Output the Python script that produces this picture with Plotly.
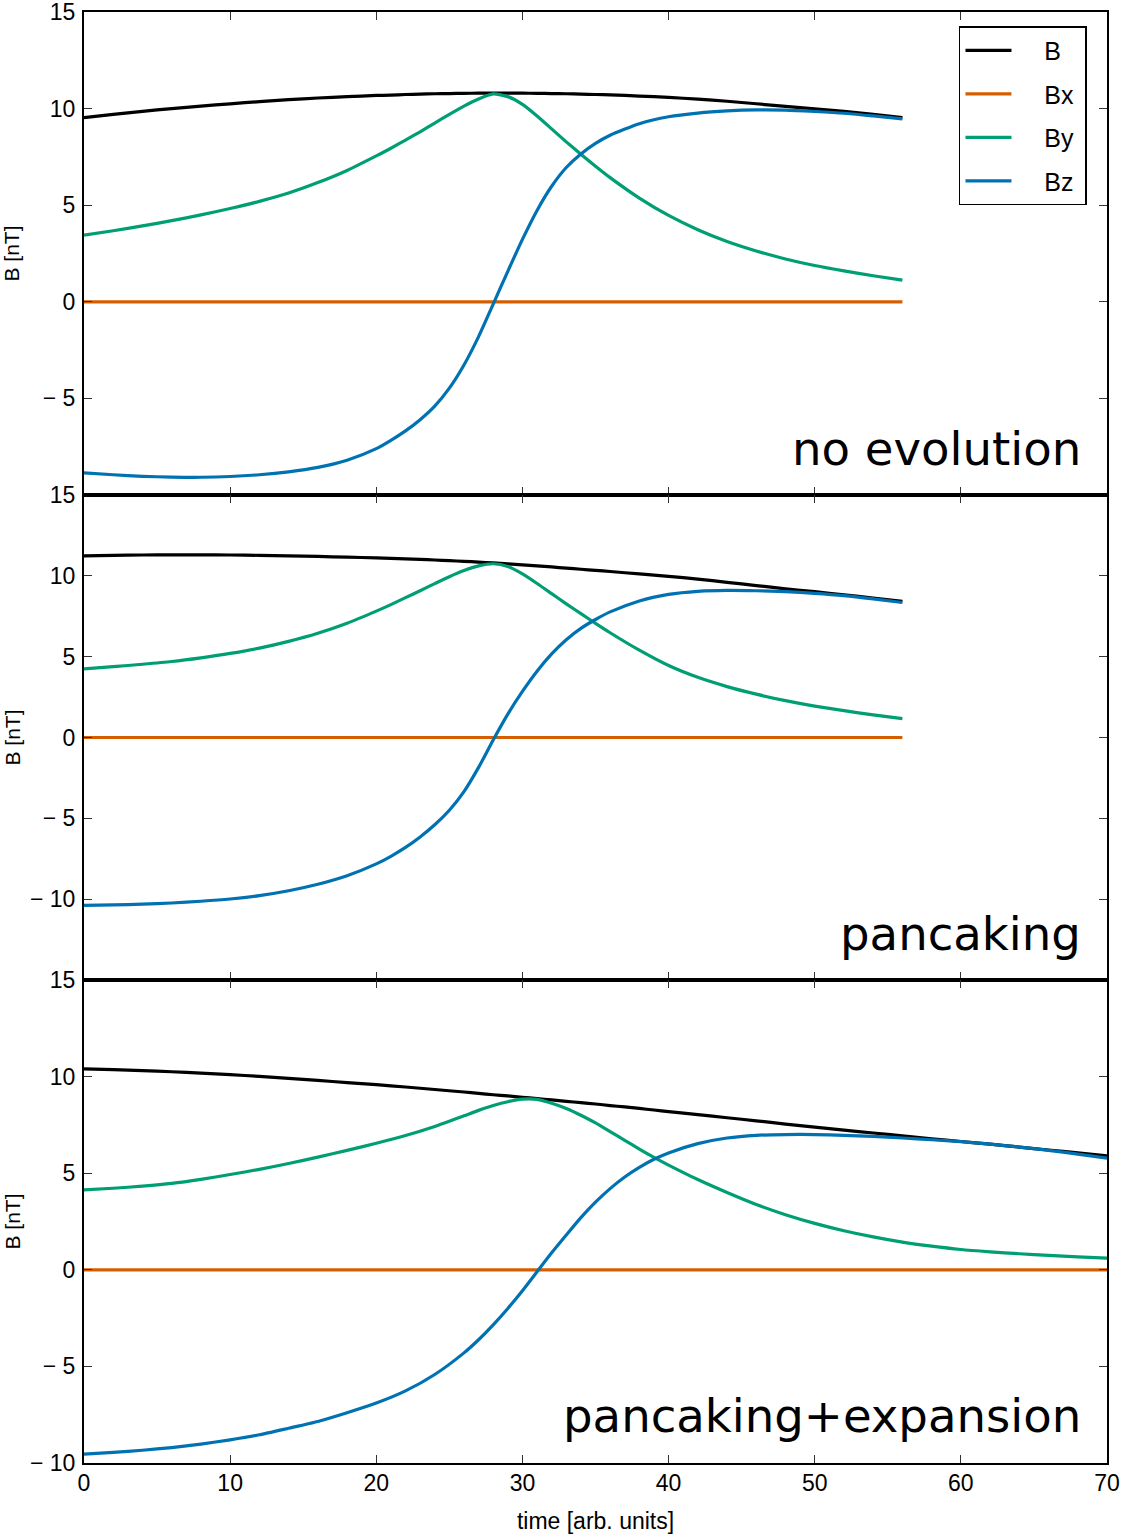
import plotly.graph_objects as go
from plotly.subplots import make_subplots

# ---------------- data ----------------
# panel 1: no evolution
t_top = [0, 2, 4, 6, 8, 10, 12, 14, 16, 18, 20, 21, 22, 23, 24, 25, 26, 27, 28, 29,
         30, 31, 32, 33, 34, 35, 36, 38, 40, 42, 44, 46, 48, 50, 52, 54, 56]
B_top = [9.53, 9.7, 9.86, 10.0, 10.13, 10.25, 10.36, 10.46, 10.55, 10.62, 10.68, 10.7,
         10.73, 10.75, 10.77, 10.78, 10.79, 10.8, 10.8, 10.8, 10.8, 10.79, 10.78, 10.77,
         10.75, 10.73, 10.71, 10.65, 10.58, 10.49, 10.38, 10.25, 10.12, 9.99, 9.86, 9.7, 9.53]
Bx_top = [0, 0, 0, 0, 0, 0, 0, 0, 0, 0, 0, 0, 0, 0, 0, 0, 0, 0, 0, 0,
          0, 0, 0, 0, 0, 0, 0, 0, 0, 0, 0, 0, 0, 0, 0, 0, 0]
By_top = [3.45, 3.68, 3.93, 4.2, 4.5, 4.83, 5.2, 5.63, 6.17, 6.8, 7.55, 7.95, 8.37,
          8.8, 9.25, 9.7, 10.13, 10.5, 10.76, 10.62, 10.22, 9.62, 8.95, 8.28, 7.64,
          7.02, 6.43, 5.37, 4.47, 3.73, 3.12, 2.63, 2.22, 1.88, 1.6, 1.35, 1.12]
Bz_top = [-8.85, -8.95, -9.03, -9.07, -9.08, -9.04, -8.95, -8.8, -8.57, -8.2, -7.6,
          -7.17, -6.68, -6.1, -5.4, -4.47, -3.27, -1.8, -0.12, 1.58, 3.23, 4.73, 5.98,
          6.95, 7.65, 8.2, 8.62, 9.22, 9.58, 9.77, 9.88, 9.93, 9.92, 9.85, 9.76, 9.62, 9.47]

# panel 2: pancaking
t_mid = [0, 2, 4, 6, 8, 10, 12, 14, 16, 18, 20, 21, 22, 23, 24, 25, 26, 27, 28, 29,
         30, 31, 32, 33, 34, 35, 36, 38, 40, 42, 44, 46, 48, 50, 52, 54, 56]
B_mid = [11.24, 11.27, 11.29, 11.3, 11.3, 11.29, 11.27, 11.24, 11.2, 11.16, 11.11,
         11.08, 11.05, 11.02, 10.98, 10.94, 10.9, 10.85, 10.8, 10.74, 10.68, 10.62,
         10.55, 10.48, 10.41, 10.34, 10.27, 10.12, 9.97, 9.8, 9.6, 9.4, 9.2, 9.02,
         8.83, 8.63, 8.43]
Bx_mid = [0, 0, 0, 0, 0, 0, 0, 0, 0, 0, 0, 0, 0, 0, 0, 0, 0, 0, 0, 0,
          0, 0, 0, 0, 0, 0, 0, 0, 0, 0, 0, 0, 0, 0, 0, 0, 0]
By_mid = [4.24, 4.38, 4.53, 4.7, 4.93, 5.2, 5.53, 5.95, 6.45, 7.07, 7.82, 8.22, 8.65,
          9.08, 9.52, 9.95, 10.33, 10.62, 10.75, 10.58, 10.12, 9.53, 8.9, 8.27, 7.66,
          7.06, 6.48, 5.4, 4.45, 3.72, 3.15, 2.68, 2.28, 1.94, 1.66, 1.4, 1.17]
Bz_mid = [-10.38, -10.36, -10.31, -10.24, -10.13, -9.99, -9.78, -9.48, -9.08, -8.55,
          -7.82, -7.35, -6.8, -6.15, -5.4, -4.5, -3.35, -1.85, -0.15, 1.45, 2.85, 4.1,
          5.17, 6.05, 6.75, 7.3, 7.77, 8.45, 8.85, 9.04, 9.1, 9.08, 9.02, 8.92, 8.78,
          8.58, 8.35]

# panel 3: pancaking+expansion
t_bot = [0, 2, 4, 6, 8, 10, 12, 14, 16, 18, 20, 22, 24, 26, 27, 28, 29, 30, 31, 32,
         33, 34, 35, 36, 37, 38, 39, 40, 42, 44, 46, 48, 50, 52, 54, 56, 58, 60, 62,
         64, 66, 68, 70]
B_bot = [10.4, 10.36, 10.31, 10.25, 10.18, 10.1, 10.01, 9.91, 9.8, 9.69, 9.58, 9.46,
         9.33, 9.2, 9.13, 9.06, 9.0, 8.93, 8.86, 8.79, 8.72, 8.65, 8.58, 8.5, 8.43,
         8.35, 8.27, 8.19, 8.03, 7.87, 7.71, 7.54, 7.38, 7.23, 7.08, 6.93, 6.78, 6.64,
         6.5, 6.35, 6.2, 6.05, 5.9]
Bx_bot = [0, 0, 0, 0, 0, 0, 0, 0, 0, 0, 0, 0, 0, 0, 0, 0, 0, 0, 0, 0, 0,
          0, 0, 0, 0, 0, 0, 0, 0, 0, 0, 0, 0, 0, 0, 0, 0, 0, 0, 0, 0, 0, 0]
By_bot = [4.14, 4.22, 4.33, 4.47, 4.68, 4.93, 5.2, 5.5, 5.83, 6.18, 6.55, 6.95, 7.42,
          7.97, 8.25, 8.5, 8.7, 8.83, 8.82, 8.62, 8.35, 8.0, 7.6, 7.15, 6.7, 6.25,
          5.82, 5.42, 4.67, 4.0, 3.38, 2.85, 2.4, 2.02, 1.7, 1.43, 1.22, 1.05, 0.93,
          0.83, 0.75, 0.67, 0.6]
Bz_bot = [-9.54, -9.45, -9.34, -9.2, -9.02, -8.8, -8.54, -8.2, -7.85, -7.4, -6.9,
          -6.27, -5.42, -4.3, -3.62, -2.85, -2.0, -1.08, -0.1, 0.88, 1.8, 2.7, 3.5,
          4.2, 4.8, 5.3, 5.72, 6.05, 6.53, 6.82, 6.96, 7.0, 7.0, 6.96, 6.9, 6.82,
          6.73, 6.63, 6.5, 6.35, 6.18, 5.99, 5.78]

panel_labels = ["no evolution", "pancaking", "pancaking+expansion"]
series_names = ["B", "Bx", "By", "Bz"]
series_colors = ["#000000", "#D55E00", "#009E73", "#0072B2"]

x_ticks = [0, 10, 20, 30, 40, 50, 60, 70]
y_ranges = [[-10, 15], [-15, 15], [-10, 15]]
y_tickvals = [[-5, 0, 5, 10, 15], [-10, -5, 0, 5, 10, 15], [-10, -5, 0, 5, 10, 15]]

# ---------------- figure ----------------
fig = make_subplots(rows=3, cols=1, shared_xaxes=True, vertical_spacing=0)

panels = [
    (t_top, [B_top, Bx_top, By_top, Bz_top]),
    (t_mid, [B_mid, Bx_mid, By_mid, Bz_mid]),
    (t_bot, [B_bot, Bx_bot, By_bot, Bz_bot]),
]

NB = "\u00a0"
for i, (t, ys) in enumerate(panels):
    for name, y, color in zip(series_names, ys, series_colors):
        fig.add_trace(
            go.Scatter(
                x=t, y=y, mode="lines",
                name=NB * 4 + name + NB,
                legendgroup=name,
                showlegend=(i == 0),
                line=dict(color=color, width=3.2, shape="spline", smoothing=0.6),
            ),
            row=i + 1, col=1,
        )

tick_font = dict(family="Liberation Sans, Arial, sans-serif", size=23, color="black")


def fmt(v):
    return ("\u2212 " + str(abs(v))) if v < 0 else str(v)


domains = [[0.6671, 1.0], [0.3329, 0.6671], [0.0, 0.3329]]
title_standoff = [18, 4, 4]
for i in range(3):
    fig.update_yaxes(
        range=y_ranges[i], domain=domains[i],
        tickvals=y_tickvals[i], ticktext=[fmt(v) for v in y_tickvals[i]],
        ticks="inside", ticklen=8, tickwidth=1, tickcolor="#333333",
        showline=True, linewidth=2, linecolor="black", mirror="allticks",
        showgrid=False, zeroline=False, tickfont=tick_font,
        ticklabelstandoff=2, automargin=False, ticklabeloverflow="allow",
        title=dict(text="B [nT]", standoff=title_standoff[i],
                   font=dict(family="Liberation Sans, Arial, sans-serif", size=21, color="black")),
        row=i + 1, col=1,
    )
    fig.update_xaxes(
        range=[0, 70], tickvals=x_ticks,
        ticks="inside", ticklen=8, tickwidth=1, tickcolor="#333333",
        showline=True, linewidth=2, linecolor="black", mirror="allticks",
        showgrid=False, zeroline=False, tickfont=tick_font,
        showticklabels=(i == 2), automargin=False, ticklabeloverflow="allow",
        row=i + 1, col=1,
    )

fig.update_xaxes(
    title=dict(text="time [arb. units]", standoff=18,
               font=dict(family="Liberation Sans, Arial, sans-serif", size=23, color="black")),
    ticklabelstandoff=-2,
    row=3, col=1,
)

label_y = [0.6988, 0.3646, 0.0324]
for lbl, yy in zip(panel_labels, label_y):
    fig.add_annotation(
        text=lbl, xref="paper", yref="paper", x=1.0, y=yy,
        xanchor="right", yanchor="middle", xshift=-24, showarrow=False,
        font=dict(family="DejaVu Sans", size=46.6, color="black"),
    )

fig.update_layout(
    width=1121, height=1538,
    margin=dict(l=84, r=14, t=12, b=75),
    paper_bgcolor="white", plot_bgcolor="white",
    legend=dict(
        x=0.8553, y=0.9903, xanchor="left", yanchor="top",
        bordercolor="black", borderwidth=1.5, bgcolor="white",
        font=dict(family="Liberation Sans, Arial, sans-serif", size=25, color="black"),
        tracegroupgap=8, itemwidth=46,
    ),
)

fig.write_html("out.html")
